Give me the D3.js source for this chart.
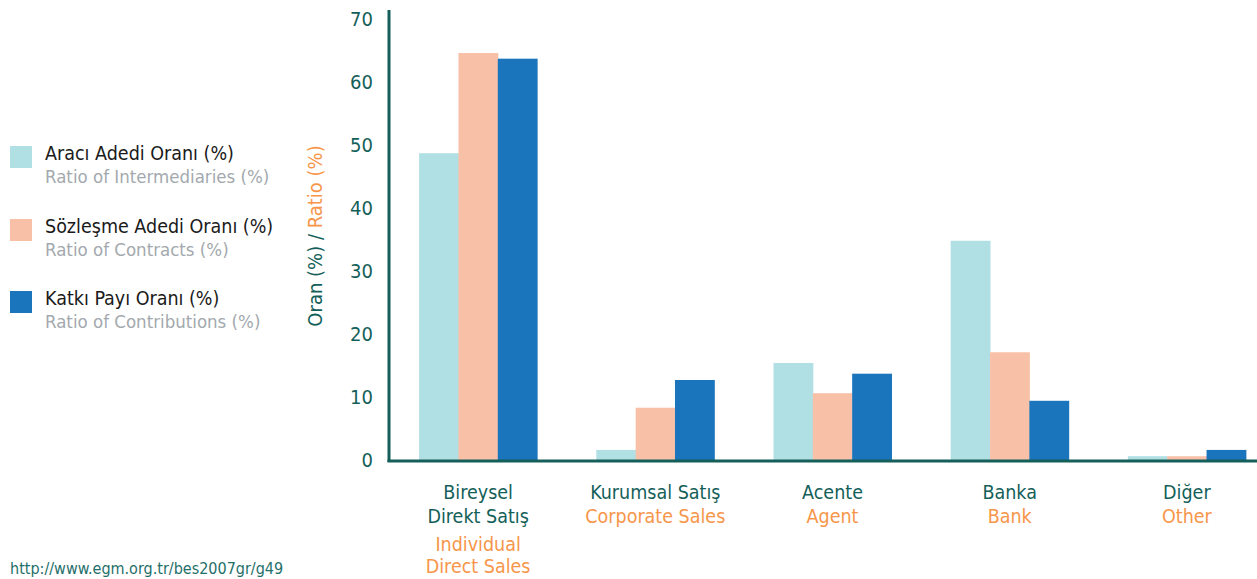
<!DOCTYPE html>
<html><head><meta charset="utf-8">
<script src="https://cdn.jsdelivr.net/npm/d3@7"></script>
<style>
body{margin:0;background:#fff;}
svg{display:block;font-family:Tahoma,"DejaVu Sans Condensed","DejaVu Sans",sans-serif;}
</style></head><body>
<svg id="chart" width="1257" height="579"></svg>
<script>
const categoriesTR = ["Bireysel\nDirekt Satış","Kurumsal Satış","Acente","Banka","Diğer"];
const categoriesEN = ["Individual\nDirect Sales","Corporate Sales","Agent","Bank","Other"];
const seriesNamesTR = ["Aracı Adedi Oranı (%)","Sözleşme Adedi Oranı (%)","Katkı Payı Oranı (%)"];
const seriesNamesEN = ["Ratio of Intermediaries (%)","Ratio of Contracts (%)","Ratio of Contributions (%)"];
const intermediaries = [48.7, 1.6, 15.4, 34.8, 0.6];
const contracts = [64.6, 8.3, 10.6, 17.1, 0.6];
const contributions = [63.7, 12.7, 13.7, 9.4, 1.6];
const yTicks = [0,10,20,30,40,50,60,70];
const colors = ["#b0dfe4","#f9c0a8","#1b75bc"];
const teal = "#145f59", orange = "#f7964a", grey = "#a3a9ae";

const series = [intermediaries, contracts, contributions];
const svg = d3.select("#chart");
const x0 = 389, yBase = 460;
const x = d3.scaleBand().domain(d3.range(categoriesTR.length)).range([x0, 1276]).paddingInner(0.334).paddingOuter(0.17);
const xs = d3.scaleBand().domain(d3.range(3)).range([0, x.bandwidth()]);
const y = d3.scaleLinear().domain([0,70]).range([yBase, 19]);

// bars
series.forEach((vals, si) => {
  svg.append("g").selectAll("rect").data(vals).join("rect")
    .attr("x", (d,i) => x(i) + xs(si))
    .attr("width", xs.bandwidth() + 0.5)
    .attr("y", d => y(d))
    .attr("height", d => yBase - y(d))
    .attr("fill", colors[si]);
});

// y axis
const yAxis = svg.append("g").attr("transform", `translate(${x0},0)`)
  .call(d3.axisLeft(y).tickValues(yTicks).tickSize(0).tickPadding(16));
yAxis.select(".domain").remove();
yAxis.selectAll("text").attr("fill", teal).style("font-size","20px").style("font-family","Tahoma,'DejaVu Sans Condensed','DejaVu Sans',sans-serif");
svg.append("line").attr("x1", x0).attr("x2", x0).attr("y1", 10).attr("y2", yBase+2)
  .attr("stroke", teal).attr("stroke-width", 3);
svg.append("line").attr("x1", x0-1.5).attr("x2", 1257).attr("y1", yBase+1).attr("y2", yBase+1)
  .attr("stroke", teal).attr("stroke-width", 3);

// y title
const yt = svg.append("text").attr("transform", "translate(322,236) rotate(-90)")
  .attr("text-anchor","middle").style("font-size","20px");
yt.append("tspan").attr("fill", teal).text("Oran (%) / ");
yt.append("tspan").attr("fill", orange).text("Ratio (%)");

// category labels
categoriesTR.forEach((c, i) => {
  const cx = x(i) + x.bandwidth()/2;
  const tr = c.split("\n"), en = categoriesEN[i].split("\n");
  const t = svg.append("text").attr("text-anchor","middle").style("font-size","19.5px");
  let yy = 499;
  tr.forEach(line => { t.append("tspan").attr("x", cx).attr("y", yy).attr("fill", teal).text(line); yy += 24; });
  if (tr.length > 1) yy += 4;
  en.forEach(line => { t.append("tspan").attr("x", cx).attr("y", yy).attr("fill", orange).text(line); yy += 22; });
});

// legend
const legY = [146, 219, 291];
seriesNamesTR.forEach((n, i) => {
  svg.append("rect").attr("x", 10).attr("y", legY[i]).attr("width", 22).attr("height", 22).attr("fill", colors[i]);
  svg.append("text").attr("x", 45).attr("y", legY[i] + 14).attr("fill", "#1a1a1a").style("font-size","19.5px").text(n);
  svg.append("text").attr("x", 45).attr("y", legY[i] + 37).attr("fill", grey).style("font-size","18.5px").text(seriesNamesEN[i]);
});

// source
svg.append("text").attr("x", 10).attr("y", 574).attr("fill", "#1f6f6a").style("font-size","16px")
  .text("http://www.egm.org.tr/bes2007gr/g49");
</script>
</body></html>
